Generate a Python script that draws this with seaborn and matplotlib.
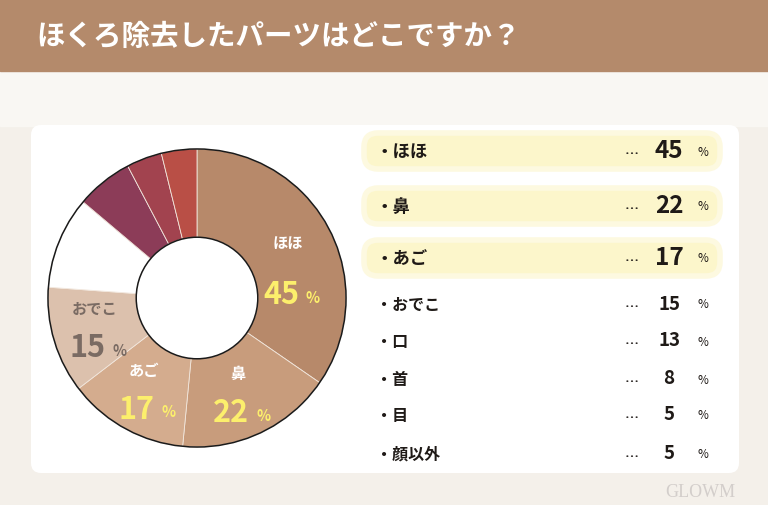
import numpy as np
import matplotlib
matplotlib.use("Agg")
import matplotlib.pyplot as plt
import seaborn as sns
from matplotlib.patches import FancyBboxPatch, Rectangle, Circle

# data
parts = ["ほほ", "鼻", "あご", "おでこ", "口", "首", "目", "顔以外"]
percent = [45, 22, 17, 15, 13, 8, 5, 5]
slice_colors = ["#b7896a", "#c89c7c", "#d4ac8e", "#dcc1ad", "#ffffff",
                "#8c3c58", "#a2434f", "#b94f46"]
title = "ほくろ除去したパーツはどこですか？"

sns.set_theme(style="white")
plt.rcParams['font.family'] = ['Noto Sans CJK JP', 'DejaVu Sans']

W, H = 768, 506
fig = plt.figure(figsize=(W / 100, H / 100), dpi=100)

# background layer in pixel coords
bg = fig.add_axes([0, 0, 1, 1], zorder=0)
bg.set_xlim(0, W)
bg.set_ylim(H, 0)
bg.axis("off")
bg.add_patch(Rectangle((0, 0), W, H, color="#f4f0ea"))
bg.add_patch(Rectangle((0, 72), W, 55, color="#f9f7f3"))
bg.add_patch(Rectangle((0, 0), W, 72, color="#b48a6b"))
bg.text(36, 37, title, color="white", fontsize=20.5, fontweight="bold",
        va="center", ha="left")
bg.add_patch(FancyBboxPatch((31, 126), 708, 348, boxstyle="round,pad=0,rounding_size=10",
                            fc="white", ec="none"))
bg.text(700, 493, "GLOWM", color="#d3cecb", fontsize=13, family="Liberation Serif",
        ha="center", va="center")

# list on the right
row_y = [152, 207, 259, 305, 342, 380, 416, 455]
for i, (name, val) in enumerate(zip(parts, percent)):
    y = row_y[i]
    top = i < 3
    if top:
        bg.add_patch(FancyBboxPatch((366, y - 16), 352, 32,
                                    boxstyle="round,pad=2,rounding_size=14",
                                    fc="#fcf6cb", ec="#fdf9e0", lw=4))
    bg.text(376, y, "・" + name, fontsize=12.5 if top else 11.5, fontweight="bold",
            color="#1f1a17", va="center", ha="left")
    bg.text(632, y + 2, "…", fontsize=10, fontweight="bold", color="#1f1a17",
            va="center", ha="center")
    bg.text(669, y - 1, str(val), fontsize=17.5 if top else 13.5, fontweight="bold",
            color="#1f1a17", va="center", ha="center")
    bg.text(703, y, "%", fontsize=8.5, color="#1f1a17", va="center", ha="center")

# donut
cx, cy, R, r_in = 197, 299, 152, 62
ax = fig.add_axes([(cx - R) / W, (H - cy - R) / H, 2 * R / W, 2 * R / H], zorder=1)
wedges, _ = ax.pie(percent, colors=slice_colors, startangle=90, counterclock=False,
                   radius=1, wedgeprops=dict(width=1 - r_in / R, edgecolor="#f1e6dc",
                                             linewidth=0.6))
ax.add_patch(Circle((0, 0), 1, fill=False, ec="#1a1a1a", lw=1.1))
ax.add_patch(Circle((0, 0), r_in / R, fill=False, ec="#1a1a1a", lw=1.1))
ax.set_xlim(-1.02, 1.02)
ax.set_ylim(-1.02, 1.02)
ax.set_aspect("equal")
ax.axis("off")

for i in range(4):
    w = wedges[i]
    mid = np.deg2rad((w.theta1 + w.theta2) / 2)
    rr = 0.7
    gap = 14
    if i == 0:
        mid -= np.deg2rad(10)
        rr = 0.66
        gap = 19
    x, y = rr * np.cos(mid), rr * np.sin(mid)
    name_col = "#7a6b63" if i == 3 else "white"
    val_col = "#7a6b63" if i == 3 else "#fcef6c"
    ax.annotate(parts[i], (x, y), xytext=(-2, gap), textcoords="offset points",
                ha="center", va="center", fontsize=11, fontweight="bold", color=name_col)
    ax.annotate(str(percent[i]), (x, y), xytext=(6, -gap), textcoords="offset points",
                ha="right", va="center", fontsize=22, fontweight="bold", color=val_col)
    ax.annotate("%", (x, y), xytext=(16, -gap - 2), textcoords="offset points",
                ha="center", va="center", fontsize=10.5, fontweight="bold", color=val_col)

fig.savefig("out.png", dpi=100)
